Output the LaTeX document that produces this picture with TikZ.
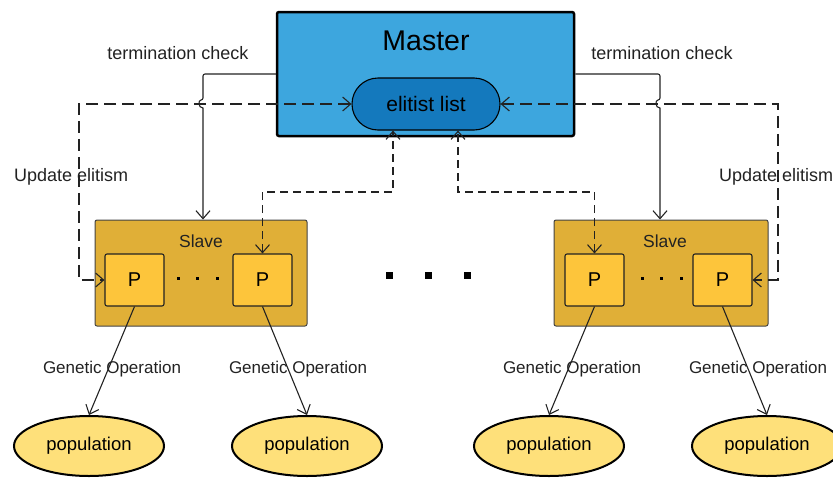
\documentclass[tikz,border=0pt]{standalone}
\usepackage{fontspec}
\setmainfont{Liberation Sans}
\usetikzlibrary{arrows.meta,shapes.geometric,shapes.misc}
\definecolor{masterblue}{HTML}{3DA6DE}
\definecolor{elitblue}{HTML}{1479BD}
\definecolor{slavey}{HTML}{E0AF37}
\definecolor{procy}{HTML}{FDC53B}
\definecolor{popy}{HTML}{FEE07A}
\definecolor{lineg}{HTML}{222222}
\tikzset{
  tip/.tip={Straight Barb[length=8pt,width=14pt,line width=1.1pt]},
  conn/.style={draw=lineg, line width=1.1pt, -tip},
  upd/.style={draw=lineg, line width=1.3pt, dash pattern=on 12pt off 6pt, tip-tip},
  inner/.style={draw=lineg, line width=1.1pt, dash pattern=on 8pt off 5pt, tip-tip},
  masterbox/.style={draw=black, line width=2.5pt, fill=masterblue, rounded corners=2pt, minimum width=297pt, minimum height=124pt, inner sep=0pt},
  elitbox/.style={draw=black, line width=1.1pt, fill=elitblue, rounded rectangle, minimum width=148pt, minimum height=52pt, inner sep=0pt, font=\fontsize{21}{24}\selectfont},
  slavebox/.style={draw=lineg!85, line width=1pt, fill=slavey, rounded corners=2pt, minimum height=106pt, inner sep=0pt},
  pbox/.style={draw=lineg, line width=1.1pt, fill=procy, rounded corners=2pt, minimum width=59pt, minimum height=52pt, inner sep=0pt, font=\fontsize{20}{22}\selectfont},
  popnode/.style={draw=black, line width=2pt, fill=popy, ellipse, minimum width=150pt, minimum height=60pt, inner sep=0pt, font=\fontsize{18.5}{21}\selectfont},
  lbl/.style={font=\fontsize{18}{21}\selectfont, text=lineg, inner sep=0pt},
  glbl/.style={font=\fontsize{17}{20}\selectfont, text=lineg, inner sep=0pt},
  sdot/.style={fill=black, minimum size=3pt, inner sep=0pt},
  bdot/.style={fill=black, minimum size=7pt, inner sep=0pt},
}
\begin{document}
\begin{tikzpicture}[x=1pt,y=-1pt]
\useasboundingbox (0,0) rectangle (833,477);
% master
\node[masterbox] (M) at (425.5,74) {};
\node[font=\fontsize{28.5}{32}\selectfont, inner sep=0pt] (Mt) at (426,41) {Master};
\node[elitbox] (E) at (426,104) {elitist list};
% slaves
\node[slavebox, minimum width=212pt] (S1) at (201,273) {};
\node[slavebox, minimum width=214pt] (S2) at (661,273) {};
\node[glbl, font=\fontsize{17.5}{20}\selectfont] (S1t) at (201,241) {Slave};
\node[glbl, font=\fontsize{17.5}{20}\selectfont] (S2t) at (665,241) {Slave};
\node[pbox] (P1) at (134.5,280) {P};
\node[pbox] (P2) at (262.5,280) {P};
\node[pbox] (P3) at (594.5,280) {P};
\node[pbox] (P4) at (722.5,280) {P};
% small dots
\foreach \x [count=\i] in {178,197.5,217} \node[sdot] (da\i) at (\x,278) {};
\foreach \x [count=\i] in {642,661.5,681} \node[sdot] (db\i) at (\x,278) {};
% big dots
\foreach \x [count=\i] in {389,428,467} \node[bdot] (bd\i) at (\x,275) {};
% populations
\node[popnode] (Q1) at (89,446) {population};
\node[popnode] (Q2) at (307,446) {population};
\node[popnode] (Q3) at (549,446) {population};
\node[popnode] (Q4) at (767,446) {population};
% termination check (with line hops over the dashed lines)
\coordinate (TL) at (203,74);
\coordinate (TR) at (660,74);
\draw[conn, rounded corners=2pt] (M.west) -- (TL) -- (203,100) [sharp corners] .. controls (198,100) and (198,108) .. (203,108) -- ([xshift=2pt]S1.north);
\draw[conn, rounded corners=2pt] (M.east) -- (TR) -- (660,100) [sharp corners] .. controls (655,100) and (655,108) .. (660,108) -- ([xshift=-1pt]S2.north);
\node[lbl] (tc1) at (178,53) {termination check};
\node[lbl] (tc2) at (662,53) {termination check};
% update elitism
\coordinate (UL) at (79,104);
\coordinate (UR) at (778,104);
\draw[upd] (E.west) -- (UL) |- (P1.west);
\draw[upd] (E.east) -- (UR) |- (P4.east);
\node[lbl, anchor=west] (ue1) at (14,177) {Update elitism};
\node[lbl, anchor=west] (ue2) at (719,177) {Update elitism};
% inner dashed
\coordinate (IL) at (393,192);
\coordinate (IR) at (458,192);
\draw[inner] (P2.north) |- (IL) -- (IL |- E.south);
\draw[inner] (P3.north) |- (IR) -- (IR |- E.south);
% genetic operation
\draw[conn] (P1.south) -- (Q1.north);
\draw[conn] (P2.south) -- (Q2.north);
\draw[conn] (P3.south) -- (Q3.north);
\draw[conn] (P4.south) -- (Q4.north);
\node[glbl] (g1) at (112,369) {Genetic Operation};
\node[glbl] (g2) at (298,369) {Genetic Operation};
\node[glbl] (g3) at (572,369) {Genetic Operation};
\node[glbl] (g4) at (758,369) {Genetic Operation};
\end{tikzpicture}
\end{document}
